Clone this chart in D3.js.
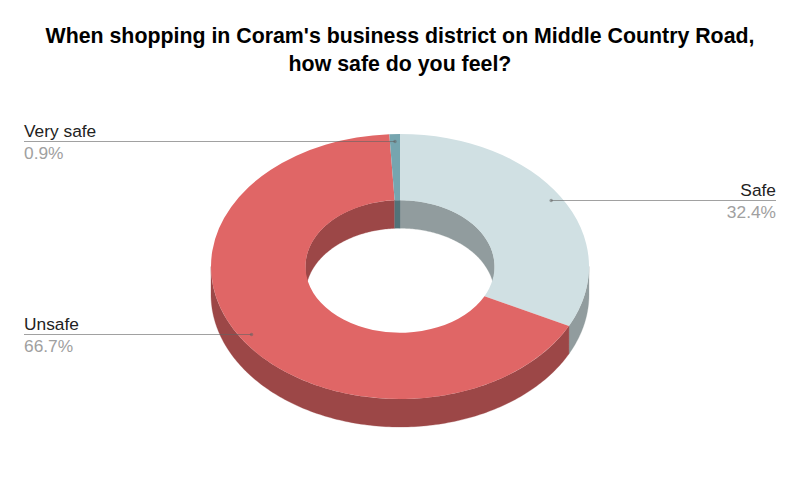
<!DOCTYPE html>
<html><head><meta charset="utf-8">
<script src="https://cdn.jsdelivr.net/npm/d3@7"></script>
<style>html,body{margin:0;padding:0;background:#fff}svg{display:block}text{font-family:"Liberation Sans",Arial,sans-serif}</style>
</head><body>
<script>
const titleLines = ["When shopping in Coram's business district on Middle Country Road,", "how safe do you feel?"];
const categories = ["Safe", "Unsafe", "Very safe"];
const values = [32.4, 66.7, 0.9];
const topColors = ["#d0e0e3", "#e06666", "#76a5af"];
const wallColors = ["#919c9e", "#9c4747", "#527379"];

const W = 800, H = 494, cx = 400, cy = 266.5, R = 189, r = 94.5, squash = 132.5 / 189, depth = 28;
const svg = d3.select("body").append("svg").attr("width", W).attr("height", H);
svg.append("rect").attr("width", W).attr("height", H).attr("fill", "#fff");

svg.selectAll("text.title").data(titleLines).join("text").attr("class", "title")
  .attr("x", 400).attr("y", (d, i) => 43 + i * 28).attr("text-anchor", "middle")
  .attr("font-size", 21.33).attr("font-weight", "bold").attr("fill", "#000").text(d => d);

const slices = d3.pie().sort(null).value(d => d)(values);
slices.forEach((s, i) => { s.i = i; });
const arc = d3.arc().innerRadius(r).outerRadius(R);
const px = (rad, a) => cx + rad * Math.sin(a);
const py = (rad, a) => cy - rad * squash * Math.cos(a);

// Extruded wall between two angles, at one radius
function wall(rad, a0, a1) {
  const n = Math.max(2, Math.ceil((a1 - a0) * 60));
  const ang = d3.range(n + 1).map(k => a0 + (a1 - a0) * k / n);
  const top = ang.map(a => [px(rad, a), py(rad, a)]);
  const bot = ang.slice().reverse().map(a => [px(rad, a), py(rad, a) + depth]);
  return d3.line()(top.concat(bot)) + "Z";
}
const PI = Math.PI, TAU = 2 * PI;
// Back half of the hole wall: angles outside (PI/2, 3PI/2)
function innerParts(s) {
  const out = [];
  const a = Math.max(s.startAngle, 0), b = Math.min(s.endAngle, PI / 2);
  if (b > a) out.push([a, b]);
  const c = Math.max(s.startAngle, 1.5 * PI), e = Math.min(s.endAngle, TAU);
  if (e > c) out.push([c, e]);
  return out;
}
function outerPart(s) {
  const a = Math.max(s.startAngle, PI / 2), b = Math.min(s.endAngle, 1.5 * PI);
  return b > a ? [[a, b]] : [];
}
const gWalls = svg.append("g");
slices.forEach(s => {
  innerParts(s).forEach(p => gWalls.append("path").attr("d", wall(r, p[0], p[1])).attr("fill", wallColors[s.i]).attr("stroke", wallColors[s.i]).attr("stroke-width", 0.3));
  outerPart(s).forEach(p => gWalls.append("path").attr("d", wall(R, p[0], p[1])).attr("fill", wallColors[s.i]).attr("stroke", wallColors[s.i]).attr("stroke-width", 0.3));
});

svg.append("g").attr("transform", `translate(${cx},${cy}) scale(1,${squash})`)
  .selectAll("path").data(slices).join("path")
  .attr("d", arc).attr("fill", d => topColors[d.i]);

// Leaders and labels
const labelSide = [1, -1, -1];
const anchorR = R * 0.94;
const gLab = svg.append("g");
slices.forEach(s => {
  const mid = (s.startAngle + s.endAngle) / 2;
  const ax = px(anchorR, mid), ay = Math.round(py(anchorR, mid)) - 0.5;
  const right = labelSide[s.i] > 0;
  const edge = right ? 776 : 24;
  gLab.append("line").attr("x1", ax).attr("x2", edge).attr("y1", ay).attr("y2", ay)
    .attr("stroke", "#636363").attr("stroke-opacity", 0.6).attr("stroke-width", 1);
  gLab.append("circle").attr("cx", ax).attr("cy", ay).attr("r", 1.7).attr("fill", "#636363").attr("fill-opacity", 0.55);
  gLab.append("text").attr("x", edge).attr("y", ay - 5).attr("text-anchor", right ? "end" : "start")
    .attr("font-size", 17.33).attr("fill", "#222").text(categories[s.i]);
  gLab.append("text").attr("x", edge).attr("y", ay + 17).attr("text-anchor", right ? "end" : "start")
    .attr("font-size", 17.33).attr("fill", "#a0a0a0").text(values[s.i] + "%");
});
</script>
</body></html>
